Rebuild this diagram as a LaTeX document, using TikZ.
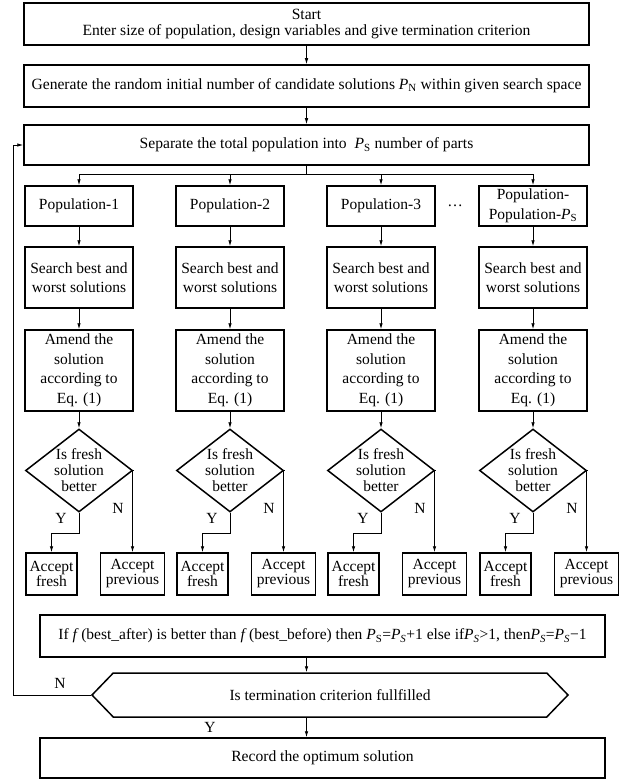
\documentclass[tikz,border=0pt]{standalone}
\usepackage{fontspec}
\setmainfont{Liberation Serif}
\usetikzlibrary{arrows.meta,shapes.geometric,shapes.symbols}
\newcommand{\PS}{\textit{P}\textsubscript{S}}
\newcommand{\PSit}{\textit{P}\textsubscript{\textit{S}}}
\newcommand{\PN}{\textit{P}\textsubscript{N}}
\begin{document}
\begin{tikzpicture}[x = 1pt, y = -1pt, >={Latex[length=6pt,width=3.5pt]},
  box/.style = {draw, line width = 1.5pt, align = center, inner sep = 1pt, font = \fontsize{15.5}{19.5}\selectfont},
  wide/.style = {box, minimum width = 565pt, font = \fontsize{15.6}{16}\selectfont},
  col/.style = {box, minimum width = 108pt},
  acc/.style = {box, minimum height = 42pt, font = \fontsize{15.5}{15}\selectfont},
  dec/.style = {diamond, draw, line width = 1.5pt, minimum width = 107pt, minimum height = 83pt, inner sep = 0pt,
    label = {[align = center, font = \fontsize{15.5}{16}\selectfont]center:Is fresh\\solution\\better}},
  link/.style = {->, line width = .8pt},
  txt/.style = {font = \fontsize{15.5}{16}\selectfont, inner sep = 0pt}]
  \useasboundingbox (0,0) rectangle (633,781);
      \node [wide, minimum height = 42pt] (start) at (306.5,24) {Start\\Enter size of population, design variables and give termination criterion};
      \node [wide, minimum height = 42pt] (gen) at (306.5,86) {Generate the random initial number of candidate solutions \PN{} within given search space};
      \node [wide, minimum height = 40pt] (sep) at (306.5,145) {Separate the total population into \ \PS{} number of parts};
      \coordinate (br) at (306.5,174);
      \draw [link] (start) -- (gen);
      \draw [link] (gen) -- (sep);
      \draw [line width = .8pt] (sep) -- (br);
      \foreach \i/\x/\poptxt in {1/79/{Population-1}, 2/230/{Population-2}, 3/381/{Population-3}, 4/533/{Population-\\Population-\PS}} {
        \node [col, minimum height = 40pt] (pop\i) at (\x,206) {\poptxt};
        \node [col, minimum height = 61pt] (srch\i) at (\x,277.5) {Search best and\\worst solutions};
        \node [col, minimum height = 81pt] (amd\i) at (\x,370.5) {Amend the\\solution\\according to\\Eq. (1)};
        \node [dec] (d\i) at (\x,470.5) {};
        \node [acc, minimum width = 51pt] (fr\i) at (\x-27.5,574) {Accept\\fresh};
        \node [acc, minimum width = 64pt] (pv\i) at (\x+53.5,574) {Accept\\previous};
        \node [txt] (y\i) at (\x-18,518) {Y};
        \node [txt] (n\i) at (\x+39,508) {N};
        \draw [link] (br) -| (pop\i);
        \draw [link] (pop\i) -- (srch\i);
        \draw [link] (srch\i) -- (amd\i);
        \draw [link] (amd\i) -- (d\i);
        \draw [link] (d\i.south) --++ (0,21) -| (fr\i);
        \draw [link] (d\i.east) -| (pv\i);
      }
      \node [txt] (dots) at (455,206) {\dots};
      \node [wide, minimum height = 42pt, font = \fontsize{15.5}{16}\selectfont] (upd) at (322.5,636) {If \textit{f}\,(best\_after) is better than \textit{f}\,(best\_before) then \PS=\PSit+1 else if\PSit>1, then\PSit=\PSit−1};
      \node [draw, signal, signal to = west and east, signal pointer angle = 92, line width = 1.5pt, minimum width = 476pt, minimum height = 44pt, font = \fontsize{15.5}{16}\selectfont] (term) at (330,695) {Is termination criterion fullfilled};
      \node [wide, minimum height = 40pt] (rec) at (322.5,758) {Record the optimum solution};
      \draw [link] (upd.south -| br) -- (term.north -| br);
      \draw [link] (term.south -| br) -- (rec.north -| br);
      \draw [link] (term.west) --++ (-78,0) |- (sep.west);
      \node [txt] (tn) at (60,683) {N};
      \node [txt] (ty) at (210,727) {Y};
\end{tikzpicture}
\end{document}
